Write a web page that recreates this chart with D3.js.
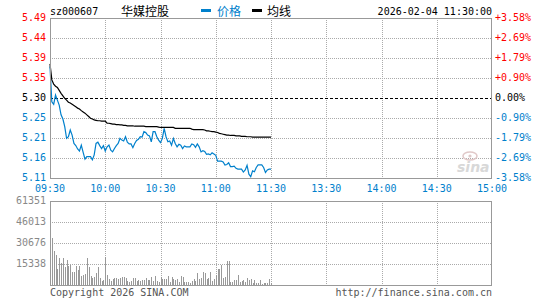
<!DOCTYPE html>
<html>
<head>
<meta charset="utf-8">
<script src="https://cdn.jsdelivr.net/npm/d3@7"></script>
<style>
  body { margin: 0; background: #fff; }
  svg text { font-family: "DejaVu Sans Mono", monospace; font-size: 10px; }
  .cjk { font-family: "Noto Sans CJK SC", sans-serif; font-size: 12px; }
</style>
</head>
<body>
<svg id="chart" width="545" height="300"></svg>
<script>
// Data
const code = "sz000607";
const name = "华媒控股";
const stamp = "2026-02-04 11:30:00";

const timeTicks = ["09:30", "10:00", "10:30", "11:00", "11:30", "13:30", "14:00", "14:30", "15:00"];
const priceTicks = ["5.49", "5.44", "5.39", "5.35", "5.30", "5.25", "5.21", "5.16", "5.11"];
const pctTicks = ["+3.58%", "+2.69%", "+1.79%", "+0.90%", "0.00%", "-0.90%", "-1.79%", "-2.69%", "-3.58%"];
const volTicks = ["61351", "46013", "30676", "15338"];

const prevClose = 5.30;
const priceRange = [5.11, 5.49];
const volMax = 61351;

// price per minute, 09:30 - 11:30
const price = [
  5.375, 5.291, 5.285, 5.307, 5.295, 5.283, 5.260, 5.250, 5.232, 5.204,
  5.208, 5.224, 5.212, 5.192, 5.187, 5.179, 5.174, 5.188, 5.171, 5.155,
  5.161, 5.161, 5.161, 5.153, 5.165, 5.192, 5.195, 5.187, 5.180, 5.187,
  5.174, 5.184, 5.188, 5.176, 5.172, 5.180, 5.187, 5.192, 5.204, 5.200,
  5.198, 5.208, 5.195, 5.191, 5.191, 5.182, 5.192, 5.199, 5.202, 5.208,
  5.207, 5.220, 5.218, 5.212, 5.210, 5.196, 5.220, 5.220, 5.208, 5.200,
  5.194, 5.204, 5.228, 5.208, 5.196, 5.198, 5.188, 5.204, 5.192, 5.184,
  5.190, 5.188, 5.180, 5.186, 5.184, 5.184, 5.184, 5.191, 5.189, 5.183,
  5.191, 5.184, 5.172, 5.175, 5.173, 5.166, 5.167, 5.165, 5.170, 5.167,
  5.164, 5.150, 5.150, 5.150, 5.148, 5.141, 5.142, 5.146, 5.137, 5.137,
  5.138, 5.133, 5.131, 5.131, 5.131, 5.124, 5.129, 5.140, 5.119, 5.113,
  5.127, 5.125, 5.135, 5.141, 5.141, 5.141, 5.135, 5.123, 5.129, 5.131,
  5.131
];

// average price line per minute
const avgPrice = [
  5.381, 5.343, 5.333, 5.328, 5.325, 5.318, 5.311, 5.305, 5.299, 5.295,
  5.290, 5.288, 5.285, 5.282, 5.279, 5.276, 5.274, 5.270, 5.267, 5.264,
  5.260, 5.256, 5.252, 5.250, 5.248, 5.247, 5.246, 5.246, 5.245, 5.245,
  5.245, 5.240, 5.240, 5.239, 5.238, 5.238, 5.237, 5.237, 5.236, 5.236,
  5.235, 5.235, 5.234, 5.234, 5.234, 5.234, 5.233, 5.233, 5.233, 5.233,
  5.233, 5.233, 5.232, 5.232, 5.232, 5.232, 5.232, 5.232, 5.232, 5.231,
  5.230, 5.230, 5.230, 5.230, 5.230, 5.230, 5.230, 5.230, 5.228, 5.228,
  5.228, 5.228, 5.228, 5.228, 5.228, 5.228, 5.228, 5.226, 5.225, 5.225,
  5.225, 5.225, 5.225, 5.225, 5.224, 5.222, 5.222, 5.221, 5.220, 5.220,
  5.219, 5.218, 5.216, 5.215, 5.214, 5.213, 5.212, 5.212, 5.211, 5.211,
  5.211, 5.210, 5.210, 5.210, 5.209, 5.209, 5.209, 5.208, 5.208, 5.208,
  5.207, 5.207, 5.207, 5.207, 5.207, 5.207, 5.207, 5.207, 5.207, 5.207,
  5.207
];

// volume per minute
const volume = [
  61351, 34500, 24800, 21900, 11700, 19500, 15800, 19500, 13400, 18250,
  14100, 14600, 9700, 9700, 14100, 11000, 14100, 6600, 7300, 8000,
  19900, 13400, 6600, 5300, 6000, 8500, 13400, 4900, 3200, 3600,
  20200, 7300, 4400, 3200, 4400, 5300, 5100, 4600, 5300, 6000,
  6000, 5100, 3000, 2400, 3200, 5100, 5100, 2700, 3600, 2700,
  3600, 3600, 5100, 3600, 3600, 5600, 3200, 6600, 3200, 2400,
  5600, 4400, 4400, 4400, 6800, 2400, 5600, 4200, 3600, 4200,
  2400, 6600, 5600, 2200, 2200, 2400, 1700, 3000, 4200, 3200,
  9000, 4200, 5300, 9500, 9000, 4400, 4900, 9500, 3000, 4400,
  7500, 11700, 11700, 14600, 5300, 6000, 17500, 17500, 2400, 2400,
  3600, 3600, 7300, 2400, 3000, 3600, 2200, 5100, 3600, 4400,
  1700, 3600, 1200, 1200, 3600, 700, 1700, 1200, 1200, 4200,
  1200
];

const RED = "#ff0000", BLUE = "#0080cc", GRID = "#aaa", FRAME = "#999";

const svg = d3.select("#chart");

const left = 50, right = 492;
const pTop = 18, pBottom = 178;
const vTop = 201, vBottom = 285;

const x = d3.scaleLinear().domain([0, 240]).range([left, right]);
const yP = d3.scaleLinear().domain(priceRange).range([pBottom, pTop]);
const yV = d3.scaleLinear().domain([0, volMax]).range([vBottom, vTop]);
const yTick = d3.scalePoint().domain(priceTicks).range([pTop, pBottom]);
const yPct = d3.scalePoint().domain(pctTicks).range([pTop, pBottom]);
const yVTick = d3.scalePoint().domain(volTicks.concat(["0"])).range([vTop, vBottom]);
const xTick = d3.scalePoint().domain(timeTicks).range([left, right]);

const px = v => Math.round(v) + 0.5;

// header
svg.append("text").attr("x", 50).attr("y", 15).text(code);
svg.append("text").attr("class", "cjk").attr("x", 121).attr("y", 16).text(name);
svg.append("rect").attr("x", 201).attr("y", 9).attr("width", 10).attr("height", 3).attr("fill", BLUE);
svg.append("text").attr("class", "cjk").attr("x", 217).attr("y", 16).attr("fill", BLUE).text("价格");
svg.append("rect").attr("x", 252).attr("y", 9).attr("width", 10).attr("height", 3).attr("fill", "#000");
svg.append("text").attr("class", "cjk").attr("x", 267).attr("y", 16).text("均线");
svg.append("text").attr("x", right).attr("y", 15).attr("text-anchor", "end").text(stamp);

// grid - price panel
const grid = svg.append("g").attr("stroke", GRID).attr("stroke-dasharray", "1,1").attr("shape-rendering", "crispEdges");
timeTicks.slice(1, -1).forEach(t => {
  grid.append("line").attr("x1", px(xTick(t))).attr("x2", px(xTick(t))).attr("y1", pTop).attr("y2", pBottom);
  grid.append("line").attr("x1", px(xTick(t))).attr("x2", px(xTick(t))).attr("y1", vTop).attr("y2", vBottom);
});
priceTicks.slice(1, -1).forEach((t, i) => {
  if (t === "5.30") return;
  grid.append("line").attr("x1", left).attr("x2", right).attr("y1", px(yTick(t))).attr("y2", px(yTick(t)));
});
volTicks.slice(1).forEach(t => {
  grid.append("line").attr("x1", left).attr("x2", right).attr("y1", px(yVTick(t))).attr("y2", px(yVTick(t)));
});

// prev close dashed line
svg.append("line")
  .attr("x1", left).attr("x2", right)
  .attr("y1", px(yTick("5.30"))).attr("y2", px(yTick("5.30")))
  .attr("stroke", "#000").attr("stroke-dasharray", "3,2").attr("shape-rendering", "crispEdges");

// watermark
const wm = svg.append("g").attr("fill", "#d8d8d8");
wm.append("text").attr("x", 457).attr("y", 172)
  .style("font-family", "Verdana, DejaVu Sans, sans-serif").style("font-size", "14px")
  .style("font-style", "italic").style("font-weight", "bold").text("sina");
wm.append("ellipse").attr("cx", 470).attr("cy", 156).attr("rx", 7).attr("ry", 4)
  .attr("fill", "none").attr("stroke", "#e0c8c8").attr("stroke-width", 1.5);
wm.append("circle").attr("cx", 470).attr("cy", 156).attr("r", 1.6).attr("fill", "#e0c8c8");

// volume bars
svg.append("g").attr("fill", "#999").attr("shape-rendering", "crispEdges")
  .selectAll("rect").data(volume).join("rect")
  .attr("x", (d, i) => Math.round(x(i)))
  .attr("y", d => yV(d))
  .attr("width", 1)
  .attr("height", d => vBottom - yV(d));

// lines
const line = d3.line().x((d, i) => x(i)).y(d => yP(d));
svg.append("path").datum(price).attr("d", line)
  .attr("fill", "none").attr("stroke", BLUE).attr("stroke-width", 1.2);
svg.append("path").datum(avgPrice).attr("d", line)
  .attr("fill", "none").attr("stroke", "#000").attr("stroke-width", 1.2);

// frames
svg.append("rect").attr("x", left + 0.5).attr("y", pTop + 0.5)
  .attr("width", right - left - 1).attr("height", pBottom - pTop)
  .attr("fill", "none").attr("stroke", FRAME);
svg.append("rect").attr("x", left + 0.5).attr("y", vTop + 0.5)
  .attr("width", right - left - 1).attr("height", vBottom - vTop)
  .attr("fill", "none").attr("stroke", FRAME);

// price axis labels
const tickColor = i => i < 4 ? RED : (i === 4 ? "#000" : BLUE);
svg.append("g").selectAll("text").data(priceTicks).join("text")
  .attr("x", 46).attr("y", d => yTick(d)).attr("dy", "0.32em")
  .attr("text-anchor", "end")
  .attr("fill", (d, i) => tickColor(i))
  .text(d => d);
svg.append("g").selectAll("text").data(pctTicks).join("text")
  .attr("x", 495).attr("y", d => yPct(d)).attr("dy", "0.32em")
  .attr("fill", (d, i) => tickColor(i))
  .text(d => d);

// time axis labels
svg.append("g").selectAll("text").data(timeTicks).join("text")
  .attr("x", d => xTick(d)).attr("y", 191.5)
  .attr("text-anchor", "middle").attr("fill", BLUE)
  .text(d => d);

// volume axis labels
svg.append("g").selectAll("text").data(volTicks).join("text")
  .attr("x", 46).attr("y", d => yVTick(d)).attr("dy", "0.32em")
  .attr("text-anchor", "end").attr("fill", "#888")
  .text(d => d);

// footer
svg.append("text").attr("x", 50).attr("y", 296).attr("fill", "#555").text("Copyright 2026 SINA.COM");
svg.append("text").attr("x", right).attr("y", 296).attr("text-anchor", "end").attr("fill", "#555").text("http://finance.sina.com.cn");
</script>
</body>
</html>
